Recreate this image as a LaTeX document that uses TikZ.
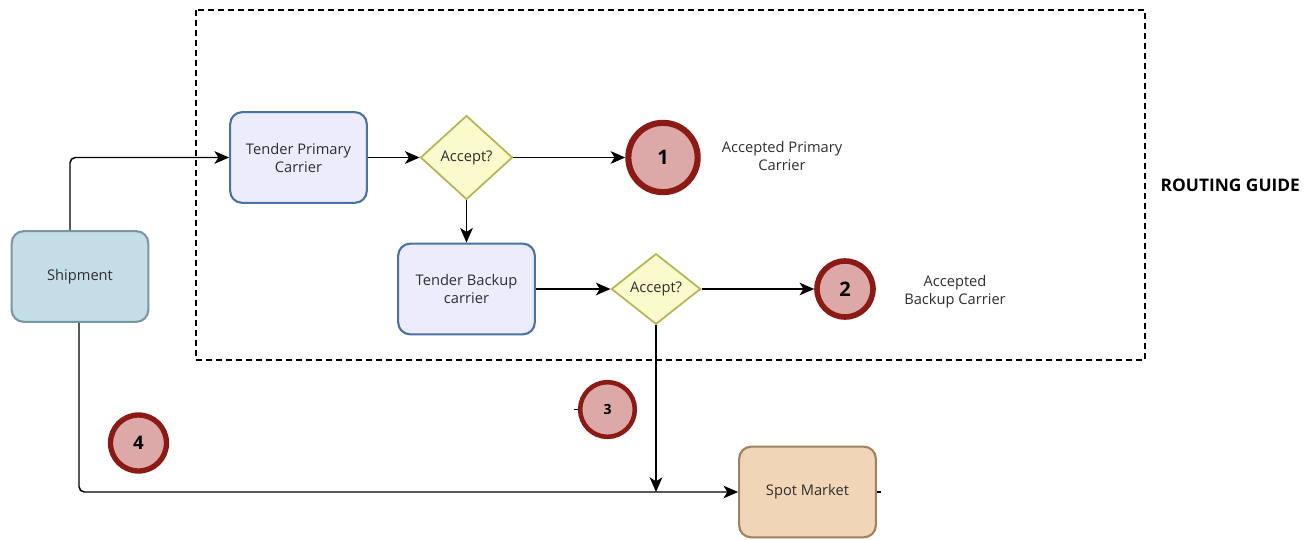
\documentclass[tikz,border=0pt]{standalone}
\usepackage{fontspec}
\setmainfont{Open Sans}
\usetikzlibrary{shapes.geometric,arrows.meta,calc}
\definecolor{shipfill}{HTML}{C4DDE7}
\definecolor{shipline}{HTML}{7896A3}
\definecolor{tendfill}{HTML}{ECECFC}
\definecolor{tendline}{HTML}{4A72A5}
\definecolor{decfill}{HTML}{FAFACD}
\definecolor{decline}{HTML}{B5B553}
\definecolor{endfill}{HTML}{DCA8A8}
\definecolor{endline}{HTML}{8C1A14}
\definecolor{spotfill}{HTML}{F0D6B6}
\definecolor{spotline}{HTML}{A0825F}
\definecolor{txt}{HTML}{2E2E2E}
\begin{document}
\begin{tikzpicture}[x=0.75pt,y=-0.75pt,
  every node/.style={text=txt},
  task/.style={rectangle, rounded corners=9pt, line width=1.6pt, minimum width=102.5pt, minimum height=68pt, align=center, font=\fontsize{11}{13.5}\selectfont},
  shipbox/.style={task, draw=shipline, fill=shipfill},
  tenderbox/.style={task, draw=tendline, fill=tendfill},
  spotbox/.style={task, draw=spotline, fill=spotfill},
  gate/.style={diamond, draw=decline, fill=decfill, line width=1.3pt, inner sep=0pt, font=\fontsize{11}{13}\selectfont},
  endpt/.style={circle, draw=endline, fill=endfill, inner sep=0pt, text=black, font=\bfseries},
  note/.style={align=center, font=\fontsize{11}{13.5}\selectfont},
  flow/.style={line width=1.1pt, -{Stealth[length=11pt,width=9.5pt,inset=3pt]}},
  link/.style={line width=1.1pt}
]
\useasboundingbox (0,0) rectangle (1316,539);

% routing guide frame
\draw[line width=1.1pt, dash pattern=on 4.5pt off 3pt] (196,10) rectangle (1145,360);
\node[anchor=west, font=\bfseries\fontsize{13}{15}\selectfont, text=black] (rg) at (1156,185) {ROUTING GUIDE};

% process steps
\node[shipbox] (ship) at (80,276.5) {Shipment};
\node[tenderbox] (tp) at (298.5,157.5) {Tender Primary\\Carrier};
\node[gate, minimum width=69pt, minimum height=63pt] (a1) at (466.5,157.5) {Accept?};
\node[tenderbox] (tb) at (466.5,289) {Tender Backup\\carrier};
\node[gate, minimum width=67pt, minimum height=53pt] (a2) at (656,289) {Accept?};
\node[spotbox] (spot) at (807.5,492) {Spot Market};

% outcomes
\node[endpt, line width=4.6pt, minimum size=52pt, font=\bfseries\fontsize{15}{17}\selectfont] (c1) at (663,157.5) {1};
\node[endpt, line width=4.2pt, minimum size=42pt, font=\bfseries\fontsize{15}{17}\selectfont] (c2) at (845,289) {2};
\node[endpt, line width=3.4pt, minimum size=41pt, font=\bfseries\fontsize{10.5}{12}\selectfont] (c3) at (607.5,409.5) {3};
\node[endpt, line width=4pt, minimum size=42pt, font=\bfseries\fontsize{14}{16}\selectfont] (c4) at (138.5,443) {4};

\node[note] (l1) at (782,156) {Accepted Primary\\Carrier};
\node[note] (l2) at (955,292) {Accepted\\Backup Carrier};

% connectors
\draw[flow, rounded corners=4pt] ([xshift=-7.5pt]ship.north) |- (tp.west);
\draw[flow] (tp.east) -- (a1.west);
\draw[flow] (a1.east) -- (c1.west);
\draw[flow] (a1.south) -- (tb.north);
\draw[flow] (tb.east) -- (a2.west);
\draw[flow] (a2.east) -- (c2.west);
\coordinate (join) at (a2.south |- spot.west);
\draw[flow] (a2.south) -- (join);
\draw[flow, rounded corners=4pt] ([xshift=-0.75pt]ship.south) |- (spot.west);
\coordinate (c3in) at ([xshift=-3pt]c3.west);
\draw[link] (c3in) -- (c3.west);
\coordinate (spotout) at ([xshift=3pt]spot.east);
\draw[link] (spot.east) -- (spotout);
\end{tikzpicture}
\end{document}
